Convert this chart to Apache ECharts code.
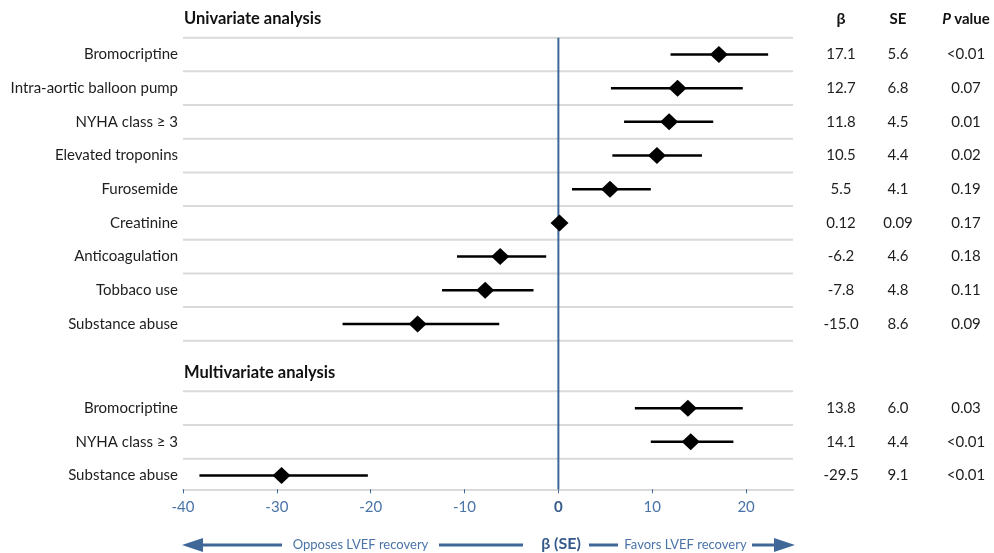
<!DOCTYPE html>
<html>
<head>
<meta charset="utf-8">
<script src="https://cdn.jsdelivr.net/npm/echarts@6/dist/echarts.min.js"></script>
<style>html,body{margin:0;padding:0;background:#fff}#c{width:994px;height:553px}</style>
</head>
<body>
<div id="c"></div>
<script>
// ---- data ----
const uniNames = ['Bromocriptine','Intra-aortic balloon pump','NYHA class \u2265 3','Elevated troponins','Furosemide','Creatinine','Anticoagulation','Tobbaco use','Substance abuse'];
const uniBeta = [17.1, 12.7, 11.8, 10.5, 5.5, 0.12, -6.2, -7.8, -15.0];
const uniLow  = [11.95, 5.6, 7.0, 5.75, 1.45, null, -10.8, -12.4, -23.0];
const uniHigh = [22.35, 19.65, 16.5, 15.3, 9.85, null, -1.3, -2.65, -6.3];
const uniBetaText = ['17.1','12.7','11.8','10.5','5.5','0.12','-6.2','-7.8','-15.0'];
const uniSE = ['5.6','6.8','4.5','4.4','4.1','0.09','4.6','4.8','8.6'];
const uniP  = ['<0.01','0.07','0.01','0.02','0.19','0.17','0.18','0.11','0.09'];

const mulNames = ['Bromocriptine','NYHA class \u2265 3','Substance abuse'];
const mulBeta = [13.8, 14.1, -29.5];
const mulLow  = [8.15, 9.85, -38.25];
const mulHigh = [19.65, 18.65, -20.3];
const mulBetaText = ['13.8','14.1','-29.5'];
const mulSE = ['6.0','4.4','9.1'];
const mulP  = ['0.03','<0.01','<0.01'];

const headers = ['Univariate analysis','Multivariate analysis'];
const xTicks = [-40,-30,-20,-10,0,10,20];

// ---- layout of rows (row index positions) ----
const uniPos = uniNames.map((_, i) => i + 1);
const mulPos = mulNames.map((_, i) => i + 11.5);
const headerPos = [0, 10.5];
const boundaries = [0.5,1.5,2.5,3.5,4.5,5.5,6.5,7.5,8.5,9.5,11,12,13];
const Y_MIN = -0.5, Y_MAX = 13.91, X_MIN = -40, X_MAX = 25;

const allNames = uniNames.concat(mulNames);
const allPos = uniPos.concat(mulPos);
const allBeta = uniBeta.concat(mulBeta);
const allLow = uniLow.concat(mulLow);
const allHigh = uniHigh.concat(mulHigh);
const allBetaText = uniBetaText.concat(mulBetaText);
const allSE = uniSE.concat(mulSE);
const allP = uniP.concat(mulP);

const FONT = 'Lato';
const TXT = '#1e1e1e';
const BLUE = '#3f6797';
const GRID = '#d9d9d9';
const COLX = {beta: 841, se: 898, p: 966};

const chart = echarts.init(document.getElementById('c'));

const option = {
  animation: false,
  textStyle: {fontFamily: FONT},
  grid: {left: 183, right: 201, top: 4, height: 485.3},
  xAxis: {
    type: 'value', min: X_MIN, max: X_MAX, interval: 10, position: 'bottom',
    axisLine: {show: true, onZero: false, lineStyle: {color: GRID, width: 2}},
    axisTick: {show: true, length: 4, customValues: xTicks, lineStyle: {color: BLUE, width: 1}},
    splitLine: {show: false},
    axisLabel: {
      customValues: xTicks, margin: 10,
      formatter: v => v === 0 ? '{z|0}' : '{n|' + v + '}',
      rich: {
        n: {color: '#4a74a8', fontSize: 15, fontFamily: FONT},
        z: {color: '#35598a', fontSize: 15, fontWeight: 'bold', fontFamily: FONT}
      }
    }
  },
  yAxis: {
    type: 'value', inverse: true, min: Y_MIN, max: Y_MAX, interval: 0.5,
    axisLine: {show: false}, axisTick: {show: false}, splitLine: {show: false},
    axisLabel: {
      margin: 5, color: TXT, fontSize: 15, fontFamily: FONT,
      formatter: v => {
        const i = allPos.findIndex(p => Math.abs(p - v) < 1e-6);
        return i >= 0 ? allNames[i] : '';
      }
    }
  },
  series: [
    { // horizontal row separators
      type: 'custom', silent: true, z: 1,
      data: boundaries.map(b => [b]),
      encode: {y: 0},
      renderItem: (params, api) => {
        const a = api.coord([X_MIN, api.value(0)]);
        const b = api.coord([X_MAX, api.value(0)]);
        return {type: 'line', shape: {x1: a[0], y1: a[1], x2: b[0], y2: b[1]}, style: {stroke: GRID, lineWidth: 2}};
      }
    },
    { // zero reference line
      type: 'line', silent: true, z: 2, symbol: 'none',
      data: [[0, 0.5], [0, Y_MAX]],
      lineStyle: {color: BLUE, width: 2}
    },
    { // error bars
      type: 'custom', silent: true, z: 3,
      data: allPos.map((p, i) => [allLow[i], allHigh[i], p]).filter(d => d[0] !== null),
      encode: {x: [0, 1], y: 2},
      renderItem: (params, api) => {
        const a = api.coord([api.value(0), api.value(2)]);
        const b = api.coord([api.value(1), api.value(2)]);
        return {type: 'line', shape: {x1: a[0], y1: a[1], x2: b[0], y2: b[1]}, style: {stroke: '#000', lineWidth: 2.5}};
      }
    },
    { // point estimates
      type: 'scatter', silent: true, z: 4,
      symbol: 'diamond', symbolSize: [18, 17],
      itemStyle: {color: '#000', opacity: 1},
      data: allPos.map((p, i) => [allBeta[i], p])
    },
    { // section headers
      type: 'custom', silent: true, z: 5,
      data: headerPos.map((p, i) => [p, i]),
      encode: {y: 0},
      renderItem: (params, api) => {
        const c = api.coord([X_MIN, api.value(0)]);
        return {type: 'text', x: c[0] + 1, y: c[1] - 2,
          style: {text: headers[api.value(1)], fill: '#111', font: 'bold 16.5px ' + FONT, textAlign: 'left', textVerticalAlign: 'middle'}};
      }
    },
    { // table column headers
      type: 'custom', silent: true, z: 5,
      data: [[0]],
      encode: {y: 0},
      renderItem: (params, api) => {
        const y = api.coord([0, api.value(0)])[1] - 2;
        return {type: 'group', children: [
          {type: 'text', x: COLX.beta, y: y, style: {text: '\u03B2', fill: '#111', font: 'bold 16px ' + FONT, textAlign: 'center', textVerticalAlign: 'middle'}},
          {type: 'text', x: COLX.se, y: y, style: {text: 'SE', fill: '#111', font: 'bold 15px ' + FONT, textAlign: 'center', textVerticalAlign: 'middle'}},
          {type: 'text', x: COLX.p, y: y, style: {
            text: '{i|P} {b|value}', textAlign: 'center', textVerticalAlign: 'middle',
            rich: {i: {font: 'italic bold 15px ' + FONT, fill: '#111'}, b: {font: 'bold 15px ' + FONT, fill: '#111'}}
          }}
        ]};
      }
    },
    { // table values
      type: 'custom', silent: true, z: 5,
      data: allPos.map((p, i) => [p, i]),
      encode: {y: 0},
      renderItem: (params, api) => {
        const i = api.value(1);
        const y = api.coord([0, api.value(0)])[1];
        const st = t => ({text: t, fill: TXT, font: '15px ' + FONT, textAlign: 'center', textVerticalAlign: 'middle'});
        return {type: 'group', children: [
          {type: 'text', x: COLX.beta, y: y, style: st(allBetaText[i])},
          {type: 'text', x: COLX.se, y: y, style: st(allSE[i])},
          {type: 'text', x: COLX.p, y: y, style: st(allP[i])}
        ]};
      }
    }
  ],
  graphic: [
    {type: 'polygon', shape: {points: [[182, 545], [203, 538], [203, 552]]}, style: {fill: BLUE}},
    {type: 'line', shape: {x1: 200, y1: 545, x2: 282, y2: 545}, style: {stroke: BLUE, lineWidth: 3}},
    {type: 'text', x: 360.5, y: 545, style: {text: 'Opposes LVEF recovery', fill: '#4a74a8', font: '13px ' + FONT, textAlign: 'center', textVerticalAlign: 'middle'}},
    {type: 'line', shape: {x1: 439, y1: 545, x2: 523, y2: 545}, style: {stroke: BLUE, lineWidth: 3}},
    {type: 'text', x: 561, y: 544, style: {text: '\u03B2 (SE)', fill: '#35598a', font: 'bold 16px ' + FONT, textAlign: 'center', textVerticalAlign: 'middle'}},
    {type: 'line', shape: {x1: 589, y1: 545, x2: 618, y2: 545}, style: {stroke: BLUE, lineWidth: 3}},
    {type: 'text', x: 685.5, y: 545, style: {text: 'Favors LVEF recovery', fill: '#4a74a8', font: '13px ' + FONT, textAlign: 'center', textVerticalAlign: 'middle'}},
    {type: 'line', shape: {x1: 752, y1: 545, x2: 776, y2: 545}, style: {stroke: BLUE, lineWidth: 3}},
    {type: 'polygon', shape: {points: [[795, 545], [774, 538], [774, 552]]}, style: {fill: BLUE}}
  ]
};
chart.setOption(option);
</script>
</body>
</html>
